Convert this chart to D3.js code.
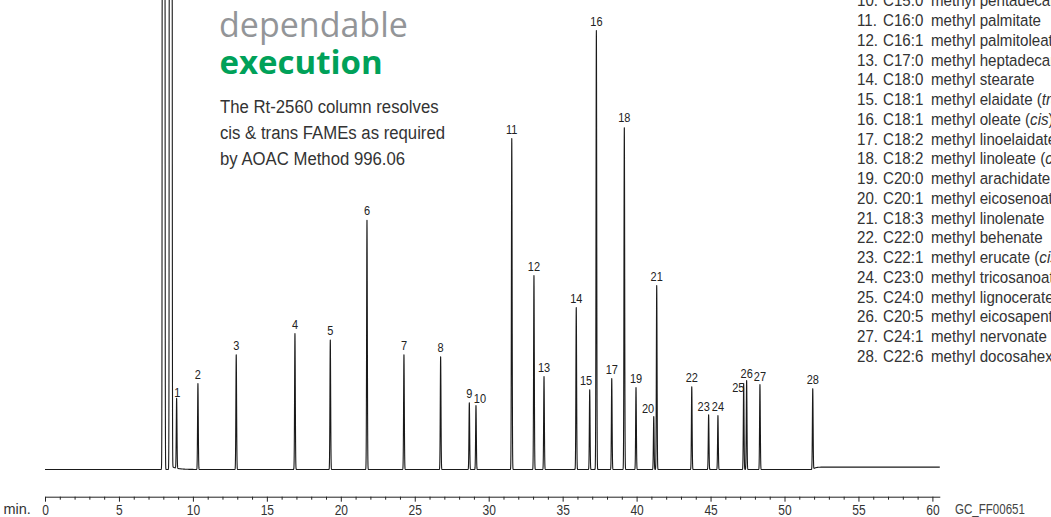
<!DOCTYPE html>
<html>
<head>
<meta charset="utf-8">
<script src="https://cdn.jsdelivr.net/npm/d3@7"></script>
<style>
  html, body { margin: 0; padding: 0; background: #fff; overflow: hidden; }
  svg { display: block; }
  text.cond { font-family: 'Liberation Sans', Arial, sans-serif; }
</style>
</head>
<body>
<svg id="chart" width="1051" height="517"></svg>
<script>
// ---- Peak table: number, retention time (min), height (detector response) ----
const peakIds = [1, 2, 3, 4, 5, 6, 7, 8, 9, 10, 11, 12, 13, 14, 15, 16, 17, 18, 19, 20, 21, 22, 23, 24, 25, 26, 27, 28];
const retentionTimes = [8.90, 10.34, 12.93, 16.90, 19.29, 21.77, 24.27, 26.75, 28.69, 29.14,
                        31.56, 33.06, 33.74, 35.92, 36.83, 37.28, 38.32, 39.17, 39.96, 41.16,
                        41.36, 43.73, 44.87, 45.50, 47.24, 47.44, 48.34, 51.91];
const peakHeights = [70, 86, 115, 136, 130, 250, 115, 113, 67, 64,
                     331, 194, 93, 162, 80, 439, 91, 343, 82, 53,
                     184, 83, 55, 54, 86, 89, 85, 81];

// Solvent front (off scale)
const solventTimes = [8.02, 8.50];
const solventHeights = [60000, 90000];

// ---- Axis ----
const axisMax = 60.5;
const majorTicks = [0, 5, 10, 15, 20, 25, 30, 35, 40, 45, 50, 55, 60];

// ---- Compound list ----
const compoundNumbers = ["10.", "11.", "12.", "13.", "14.", "15.", "16.", "17.", "18.", "19.",
                         "20.", "21.", "22.", "23.", "24.", "25.", "26.", "27.", "28."];
const compoundCodes = ["C15:0", "C16:0", "C16:1", "C17:0", "C18:0", "C18:1", "C18:1", "C18:2", "C18:2", "C20:0",
                       "C20:1", "C18:3", "C22:0", "C22:1", "C23:0", "C24:0", "C20:5", "C24:1", "C22:6"];
const compoundNames = ["methyl pentadecanoate", "methyl palmitate", "methyl palmitoleate", "methyl heptadecanoate",
                       "methyl stearate", "methyl elaidate (*trans*)", "methyl oleate (*cis*)",
                       "methyl linoelaidate (*trans*)", "methyl linoleate (*cis*)", "methyl arachidate",
                       "methyl eicosenoate", "methyl linolenate", "methyl behenate", "methyl erucate (*cis*)",
                       "methyl tricosanoate", "methyl lignocerate", "methyl eicosapentaenoate",
                       "methyl nervonate", "methyl docosahexaenoate"];

const headline = ["dependable", "execution"];
const blurb = ["The Rt-2560 column resolves", "cis & trans FAMEs as required", "by AOAC Method 996.06"];
const chartId = "GC_FF00651";

// ------------------------------------------------------------------
const svg = d3.select("#chart");

const x = d3.scaleLinear().domain([0, axisMax]).range([45, 45 + axisMax * 14.79]);
const y = d3.scaleLinear().domain([0, 469]).range([469.5, 0.5]);

// condensed text: regular face squeezed horizontally around its anchor
function condText(sel, px, py, sx, size) {
  return sel.append("text")
    .attr("class", "cond")
    .attr("transform", `translate(${px},${py}) scale(${sx},1)`)
    .attr("font-size", size);
}

// Peak shape: narrow gaussian per component
const peaks = peakIds.map((id, i) => ({ id, t: retentionTimes[i], h: peakHeights[i], s: 0.024 }));
const solvents = solventTimes.map((t, i) => ({ t, h: solventHeights[i], s: 0.032 }));

function signal(t) {
  let v = 0;
  for (const p of peaks.concat(solvents)) {
    const d = (t - p.t) / p.s;
    if (Math.abs(d) < 12) v += p.h * Math.exp(-0.5 * d * d);
  }
  // solvent tailing and the small baseline lift after the last peak
  if (t > solventTimes[1]) v += 3.5 * Math.exp(-(t - solventTimes[1]) / 0.4);
  const last = retentionTimes[retentionTimes.length - 1];
  if (t > last) v += 2.4 * (1 - Math.exp(-(t - last) / 0.15));
  return v;
}

const times = d3.range(0, axisMax + 0.0001, 0.004);
const trace = times.map(t => [t, signal(t)]);

const line = d3.line()
  .x(d => x(d[0]))
  .y(d => Math.max(-5, y(d[1])));

svg.append("path")
  .datum(trace)
  .attr("d", line)
  .attr("fill", "none")
  .attr("stroke", "#1a1a1a")
  .attr("stroke-width", 1.1)
  .attr("stroke-linejoin", "round");

// Peak number labels
const nudge = {
  1: [0.6, 1.9], 10: [4, 1.9], 15: [-3.7, 0], 20: [-5.7, 1.5], 23: [-5, 1.2],
  25: [-5.4, 13.5], 26: [0, 2.2], 27: [0, 1.2]
};
const labels = svg.append("g").attr("fill", "#222");
peaks.forEach(d => {
  const n = nudge[d.id] || [0, 0];
  condText(labels, x(d.t) + n[0], y(d.h) - 9.5 + n[1] + 4.6, 0.86, 12.8)
    .attr("text-anchor", "middle")
    .text(d.id);
});

// Time axis
const axisY = 496.7;
const minor = d3.axisBottom(x)
  .tickValues(d3.range(0, 61, 1).filter(v => v % 5 !== 0))
  .tickSize(3).tickSizeOuter(0).tickFormat("");
const major = d3.axisBottom(x)
  .tickValues(majorTicks)
  .tickSize(5).tickSizeOuter(0).tickPadding(2);

const gMinor = svg.append("g").attr("transform", `translate(0,${axisY})`).call(minor);
gMinor.select(".domain").remove();
const gMajor = svg.append("g").attr("transform", `translate(0,${axisY})`)
  .attr("font-size", 15.4)
  .call(major);
gMajor.attr("font-size", 15.4);
gMajor.selectAll(".tick text")
  .attr("class", "cond")
  .attr("fill", "#333")
  .attr("transform", "scale(0.78,1)");
svg.selectAll(".tick line").attr("stroke", "#222");
gMajor.select(".domain").attr("stroke", "#222");

condText(svg, 3.5, 514, 0.94, 15.4).attr("fill", "#333").text("min.");
condText(svg, 955, 514, 0.75, 15.4).attr("fill", "#444").text(chartId);

// Headline and description
svg.append("text")
  .attr("x", 219).attr("y", 37)
  .attr("font-family", "'Open Sans', 'Noto Sans', sans-serif")
  .attr("font-size", 34).attr("fill", "#939598")
  .text(headline[0]);
svg.append("text")
  .attr("x", 219.5).attr("y", 73.5)
  .attr("font-family", "'Open Sans', 'Noto Sans', sans-serif")
  .attr("font-weight", 700)
  .attr("font-size", 33)
  .attr("fill", "#00a159")
  .text(headline[1]);

blurb.forEach((s, i) => {
  condText(svg, 220, 113 + i * 26, 0.9, 18.6).attr("fill", "#333").text(s);
});

// Compound list, right column
const list = svg.append("g").attr("fill", "#333");
compoundNumbers.forEach((num, i) => {
  const yy = 6.3 + i * 19.75;
  condText(list, 857, yy, 0.9, 16.8).text(num);
  condText(list, 883, yy, 0.9, 16.8).text(compoundCodes[i]);
  const t = condText(list, 931, yy, 0.9, 16.8);
  compoundNames[i].split("*").forEach((part, k) => {
    if (!part) return;
    t.append("tspan").attr("font-style", k % 2 ? "italic" : null).text(part);
  });
});
</script>
</body>
</html>
